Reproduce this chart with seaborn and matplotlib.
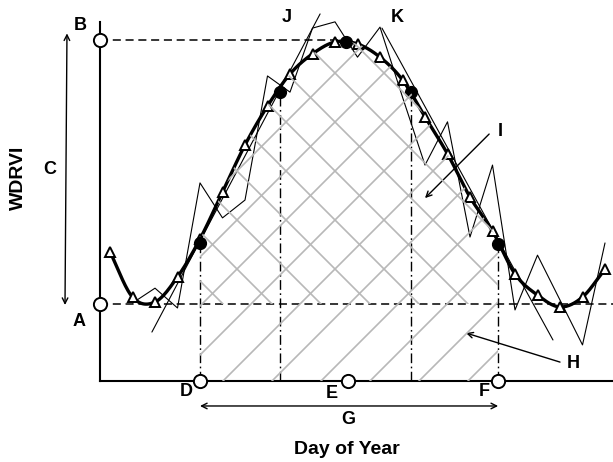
import numpy as np
import pandas as pd
import matplotlib
matplotlib.use("Agg")
import matplotlib.pyplot as plt
import seaborn as sns
from matplotlib.patches import Polygon
from matplotlib.lines import Line2D
from matplotlib.transforms import IdentityTransform

# ---------------- data ----------------
# 8-day composite days of year
doy = [100, 108, 116, 124, 132, 140, 148, 156, 164, 172, 180, 188,
       196, 204, 212, 220, 228, 236, 244, 252, 260, 268, 276]
# smoothed WDRVI (triangles)
wdrvi_smooth = [-0.342, -0.479, -0.494, -0.418, -0.303, -0.161, -0.018, 0.100,
                0.197, 0.258, 0.294, 0.288, 0.248, 0.179, 0.067, -0.045,
                -0.176, -0.279, -0.409, -0.473, -0.509, -0.479, -0.394]
# raw (noisy) WDRVI
doy_raw = [108, 116, 124, 132, 140, 148, 156, 164, 172, 180, 188,
           196, 204, 212, 220, 228, 236, 244, 252, 260, 268, 276]
wdrvi_raw = [-0.497, -0.452, -0.512, -0.133, -0.239, -0.185, 0.191, 0.142,
             0.336, 0.355, 0.248, 0.339, 0.127, -0.079, 0.052, -0.297,
             -0.079, -0.518, -0.352, -0.488, -0.624, -0.315]
# linear trends of green-up and senescence
greenup_doy = [114.9, 174.7]
greenup_wdrvi = [-0.585, 0.379]
senes_doy = [196.7, 257.5]
senes_wdrvi = [0.336, -0.609]
# key points on the curve (D, J, peak, K, F)
key_doy = [132, 160.5, 184, 207, 238]
key_wdrvi = [-0.315, 0.142, 0.294, 0.142, -0.318]
start_doy, peak_doy, end_doy = 132, 184, 238
min_wdrvi, max_wdrvi = -0.5, 0.3

# ---------------- figure ----------------
W, H = 613, 462
sns.set_theme(style="white")
plt.rcParams["font.family"] = ["Liberation Sans", "DejaVu Sans"]
plt.rcParams["text.color"] = "black"
plt.rcParams["lines.scale_dashes"] = False

fig = plt.figure(figsize=(W / 100, H / 100), dpi=100)
ax = fig.add_axes([100 / W, 81 / H, 513 / W, 381 / H])
XLIM = (96.444, 278.844)
YLIM = (-0.7333, 0.4212)
ax.set_xlim(*XLIM)
ax.set_ylim(*YLIM)
ax.set_xticks([])
ax.set_yticks([])
for s in ["top", "right"]:
    ax.spines[s].set_visible(False)
for s in ["left", "bottom"]:
    ax.spines[s].set_linewidth(1.5)
    ax.spines[s].set_color("black")
ax.spines["left"].set_bounds(YLIM[0], 0.3545)


def smooth(x, y, n=25):
    x = np.asarray(x, float)
    y = np.asarray(y, float)
    yp = np.concatenate([[2 * y[0] - y[1]], y, [2 * y[-1] - y[-2]]])
    xs, ys = [], []
    t = np.linspace(0, 1, n, endpoint=False)
    for k in range(len(x) - 1):
        p0, p1, p2, p3 = yp[k], yp[k + 1], yp[k + 2], yp[k + 3]
        yy = 0.5 * (2 * p1 + (-p0 + p2) * t + (2 * p0 - 5 * p1 + 4 * p2 - p3) * t ** 2
                    + (-p0 + 3 * p1 - 3 * p2 + p3) * t ** 3)
        xs.append(x[k] + (x[k + 1] - x[k]) * t)
        ys.append(yy)
    xs.append([x[-1]])
    ys.append([y[-1]])
    return np.concatenate(xs), np.concatenate(ys)


sx, sy = smooth(doy, wdrvi_smooth)
df_s = pd.DataFrame({"doy": sx, "wdrvi": sy})

# ---------------- hatched areas (manual wide hatching, clipped) ----------------
m = (sx >= start_doy) & (sx <= end_doy)
top_x = np.concatenate([[start_doy], sx[m], [end_doy]])
top_y = np.concatenate([[np.interp(start_doy, sx, sy)], sy[m], [np.interp(end_doy, sx, sy)]])
poly_all = Polygon(np.column_stack([np.concatenate([top_x, [end_doy, start_doy]]),
                                    np.concatenate([top_y, [YLIM[0], YLIM[0]]])]),
                   closed=True, fill=False, edgecolor="none", transform=ax.transData)
poly_up = Polygon(np.column_stack([np.concatenate([top_x, [end_doy, start_doy]]),
                                   np.concatenate([top_y, [min_wdrvi, min_wdrvi]])]),
                  closed=True, fill=False, edgecolor="none", transform=ax.transData)
ax.add_patch(poly_all)
ax.add_patch(poly_up)

hcol = "#b8b8b8"
sp = 49
for k in range(-10, 9):
    c = 604 + sp * k            # '/' lines: x + y = c (image pixels)
    yy = np.array([0, H])
    ln = Line2D(c - yy, H - yy, color=hcol, lw=1.2, transform=IdentityTransform(), zorder=1)
    fig.add_artist(ln)
    ln.set_clip_path(poly_all)
for k in range(-4, 13):
    d = -81 + sp * k            # '\' lines: x - y = d (image pixels)
    yy = np.array([0, H])
    ln = Line2D(d + yy, H - yy, color=hcol, lw=1.2, transform=IdentityTransform(), zorder=1)
    fig.add_artist(ln)
    ln.set_clip_path(poly_up)

# ---------------- reference lines ----------------
dash = (0, (5.8, 3.4))
ax.plot([XLIM[0], peak_doy], [max_wdrvi, max_wdrvi], color="black", lw=1.1, ls=dash, zorder=2)
ax.plot([XLIM[0], XLIM[1]], [min_wdrvi, min_wdrvi], color="black", lw=1.1, ls=dash, zorder=2)
dashdot = (0, (7, 2.5, 1.2, 2.5))
for xd, yd in [(key_doy[0], key_wdrvi[0]), (key_doy[1], key_wdrvi[1]),
               (key_doy[3], key_wdrvi[3]), (key_doy[4], key_wdrvi[4])]:
    ax.plot([xd, xd], [YLIM[0], yd], color="black", lw=1.0, ls=dashdot, zorder=2)

# ---------------- trend lines and raw series ----------------
ax.plot(greenup_doy, greenup_wdrvi, color="black", lw=0.8, zorder=3)
ax.plot(senes_doy, senes_wdrvi, color="black", lw=0.8, zorder=3)
sns.lineplot(x=doy_raw, y=wdrvi_raw, ax=ax, color="black", lw=0.8, zorder=3, sort=False)

# ---------------- smoothed curve ----------------
sns.lineplot(data=df_s, x="doy", y="wdrvi", ax=ax, color="black", lw=2.4, zorder=4, sort=False)
ax.plot(doy, wdrvi_smooth, ls="none", marker="^", ms=7.5, mfc="white", mec="black", mew=1.4, zorder=5)
ax.plot(key_doy, key_wdrvi, ls="none", marker="o", ms=8.5, mfc="black", mec="black", zorder=6)

# open circles on the axes
ax.plot([XLIM[0], XLIM[0]], [min_wdrvi, max_wdrvi], ls="none", marker="o", ms=9.5,
        mfc="white", mec="black", mew=1.4, clip_on=False, zorder=7)
ax.plot([start_doy, peak_doy + 0.7, end_doy], [YLIM[0]] * 3, ls="none", marker="o", ms=9.5,
        mfc="white", mec="black", mew=1.4, clip_on=False, zorder=7)

ax.set_xlabel("")
ax.set_ylabel("")

# ---------------- arrows ----------------
arr = dict(arrowstyle="<->", color="black", lw=1.0, shrinkA=0, shrinkB=0, mutation_scale=10)
ax.annotate("", xy=(84.7, 0.32), xytext=(84.0, -0.503), xycoords="data", arrowprops=arr,
            annotation_clip=False)
ax.annotate("", xy=(start_doy, -0.809), xytext=(end_doy, -0.809), xycoords="data",
            arrowprops=arr, annotation_clip=False)
one = dict(arrowstyle="->", color="black", lw=1.0, shrinkA=0, shrinkB=0, mutation_scale=10)
ax.annotate("", xy=(212.0, -0.179), xytext=(234.8, 0.015), arrowprops=one)
ax.annotate("", xy=(226.6, -0.588), xytext=(260.0, -0.676), arrowprops=one)

# ---------------- labels ----------------
def ftxt(x, y, s, size=13, **kw):
    fig.text(x / W, 1 - y / H, s, ha="center", va="center", fontsize=size,
             fontweight="bold", color="black", **kw)

ftxt(80, 25, "B")
ftxt(79, 322, "A")
ftxt(50, 170, "C")
ftxt(18, 178, "WDRVI", size=14, rotation=90)
ftxt(287, 18, "J")
ftxt(397, 17, "K")
ftxt(500, 132, "I")
ftxt(573, 364, "H")
ftxt(186, 392, "D")
ftxt(332, 394, "E")
ftxt(484, 392, "F")
ftxt(348, 419, "G")
ftxt(347, 449, "Day of Year", size=14)

fig.savefig("out.png", dpi=100)
